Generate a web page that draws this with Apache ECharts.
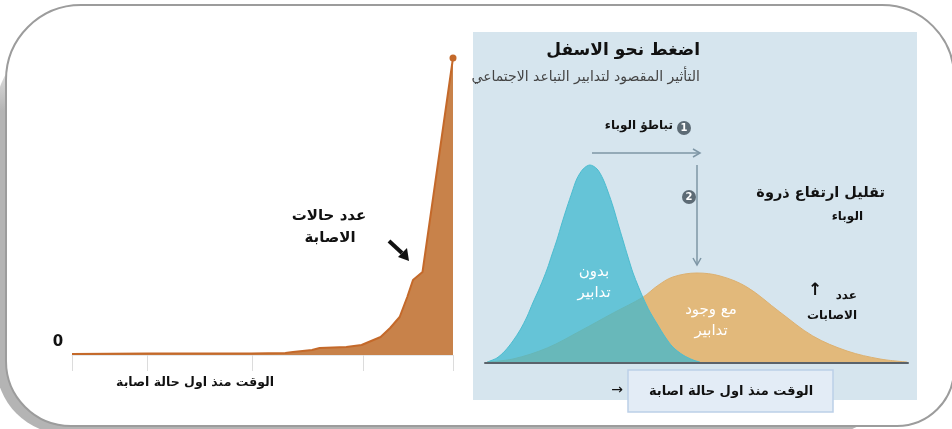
<!DOCTYPE html>
<html>
<head>
<meta charset="utf-8">
<script src="https://cdn.jsdelivr.net/npm/echarts@6/dist/echarts.min.js"></script>
<style>html,body{margin:0;padding:0;background:#fff}#c{width:952px;height:429px}</style>
</head>
<body>
<div id="c"></div>
<script>
// ---- Left chart data (days since first case, number of cases) ----
const leftDays  = [0, 20, 47, 56, 58, 63, 65, 72, 76, 81, 83.5, 86, 88, 89.5, 92, 100];
const leftCases = [1, 1.5, 1.5, 2, 3, 5, 7, 8, 10, 18, 27, 38, 58, 75, 83, 297];
const leftTickDays = [0, 19.7, 47.2, 76.4, 100];
const leftYLabels = ['0'];
const leftXTitle = 'الوقت منذ اول حالة اصابة';
const leftNote = ['عدد حالات', 'الاصابة'];

// ---- Right chart data (flatten the curve) ----
const tealX = [0.5, 2.8, 4.7, 6.6, 8.3, 9.9, 11.3, 13.0, 14.7, 15.8, 17.0, 18.2, 19.4, 20.6, 21.7, 23.2, 24.8, 26.5, 27.9, 29.1, 30.3, 31.4, 32.6, 33.8, 35.0, 36.2, 37.4, 39.0, 40.7, 42.6, 44.4, 46.8, 49.2, 50.8];
const tealY = [1, 5, 12, 22, 33, 46, 60, 76, 94, 108, 123, 140, 156, 171, 184, 194, 198, 194, 184, 171, 156, 140, 123, 106, 90, 77, 65, 51, 39, 26, 16, 8, 3, 1];
const tanX  = [0.5, 6.6, 14.7, 22.5, 30.3, 37.4, 40.7, 44.4, 50.1, 55.6, 61.9, 69.7, 77.5, 85.6, 93.4, 99.8];
const tanY  = [1, 4, 15, 32, 50, 66, 77, 86, 90, 87, 76, 51, 27, 12, 4, 1];
const rightTitle = 'اضغط نحو الاسفل';
const rightSubtitle = 'التأثير المقصود لتدابير التباعد الاجتماعي';
const step1 = 'تباطؤ الوباء';
const step2 = ['تقليل ارتفاع ذروة', 'الوباء'];
const tealLabel = ['بدون', 'تدابير'];
const tanLabel = ['مع وجود', 'تدابير'];
const yNote = ['عدد', 'الاصابات'];
const rightXTitle = 'الوقت منذ اول حالة اصابة';

const AR = '"DejaVu Sans", Arial, sans-serif';
const chart = echarts.init(document.getElementById('c'));

function txt(x, y, s, size, opts) {
  opts = opts || {};
  return {
    type: 'text', x: x, y: y, z: 50,
    style: Object.assign({
      text: s, fontSize: size, fontFamily: AR,
      fontWeight: opts.bold ? 'bold' : 'normal',
      fill: opts.color || '#111', align: opts.align || 'center', verticalAlign: 'middle'
    }, opts.style || {})
  };
}

const graphics = [
  // shadow
  { type: 'rect', z: -20, shape: { x: -4, y: 40, width: 900, height: 394, r: 70 },
    style: { fill: new echarts.graphic.LinearGradient(0, 0, 0, 1, [
      { offset: 0, color: '#ffffff' }, { offset: 0.18, color: '#b4b4b4' }, { offset: 1, color: '#b4b4b4' }]) } },
  // white frame
  { type: 'rect', z: -10, shape: { x: 6, y: 5, width: 948, height: 421, r: [75, 72, 57, 65] },
    style: { fill: '#ffffff', stroke: '#9c9c9c', lineWidth: 2 } },
  // right panel background
  { type: 'rect', z: -5, shape: { x: 473, y: 32, width: 444, height: 368 },
    style: { fill: '#d6e5ee' } },
  // left annotations
  txt(329, 216, leftNote[0], 15, { bold: true }),
  txt(330, 238, leftNote[1], 15, { bold: true }),
  { type: 'line', z: 50, shape: { x1: 389, y1: 241, x2: 402, y2: 253 }, style: { stroke: '#111', lineWidth: 4 } },
  { type: 'polygon', z: 50, shape: { points: [[398, 257], [407, 248], [409, 261]] }, style: { fill: '#111' } },
  txt(58, 342, leftYLabels[0], 15, { bold: true }),
  txt(195, 383, leftXTitle, 12.5, { bold: true }),
  // right titles
  txt(700, 51, rightTitle, 17, { bold: true, align: 'right' }),
  txt(700, 77, rightSubtitle, 14, { align: 'right', color: '#444' }),
  txt(673, 126, step1, 12, { bold: true, align: 'right' }),
  { type: 'circle', z: 50, shape: { cx: 684, cy: 128, r: 7 }, style: { fill: '#5d6b75' } },
  txt(684, 128, '1', 10, { bold: true, color: '#fff' }),
  txt(885, 193, step2[0], 14.5, { bold: true, align: 'right' }),
  txt(863, 217, step2[1], 12, { bold: true, align: 'right' }),
  { type: 'circle', z: 50, shape: { cx: 689, cy: 197, r: 7 }, style: { fill: '#5d6b75' } },
  txt(689, 197, '2', 10, { bold: true, color: '#fff' }),
  // arrows
  { type: 'line', z: 50, shape: { x1: 592, y1: 153, x2: 700, y2: 153 }, style: { stroke: '#7e96a5', lineWidth: 1.5 } },
  { type: 'polyline', z: 50, shape: { points: [[693, 149], [700, 153], [693, 157]] }, style: { stroke: '#7e96a5', lineWidth: 1.5, fill: null } },
  { type: 'line', z: 50, shape: { x1: 697, y1: 165, x2: 697, y2: 265 }, style: { stroke: '#7e96a5', lineWidth: 1.5 } },
  { type: 'polyline', z: 50, shape: { points: [[693, 258], [697, 265], [701, 258]] }, style: { stroke: '#7e96a5', lineWidth: 1.5, fill: null } },
  // curve labels
  txt(594, 272, tealLabel[0], 15, { color: '#fff' }),
  txt(594, 293, tealLabel[1], 15, { color: '#fff' }),
  txt(711, 310, tanLabel[0], 15, { color: '#fff' }),
  txt(711, 331, tanLabel[1], 15, { color: '#fff' }),
  txt(857, 296, yNote[0], 12, { bold: true, align: 'right' }),
  txt(815, 291, '↑', 17, { bold: true }),
  txt(832, 316, yNote[1], 12, { bold: true }),
  // x-axis title box
  { type: 'rect', z: 40, shape: { x: 628, y: 370, width: 205, height: 42 }, style: { fill: '#e3ecf6', stroke: '#bcd0e8', lineWidth: 1.5 } },
  txt(731, 392, rightXTitle, 13, { bold: true }),
  txt(617, 390, '→', 14, {})
];

const option = {
  backgroundColor: '#ffffff',
  animation: false,
  grid: [
    { left: 72, right: 952 - 453, top: 55, height: 300 },
    { left: 485, right: 952 - 908, top: 163, height: 200 }
  ],
  xAxis: [
    { gridIndex: 0, type: 'value', min: 0, max: 100,
      splitLine: { show: false },
      axisLine: { show: true, lineStyle: { color: '#e6e9ec', width: 1 } },
      axisTick: { show: true, customValues: leftTickDays, length: 16, lineStyle: { color: '#dcdcdc' } },
      axisLabel: { show: false } },
    { gridIndex: 1, type: 'value', min: 0, max: 100,
      splitLine: { show: false },
      axisLine: { show: true, lineStyle: { color: '#5a636b', width: 2 } },
      axisTick: { show: false }, axisLabel: { show: false }, z: 10 }
  ],
  yAxis: [
    { gridIndex: 0, type: 'value', min: 0, max: 300, show: false },
    { gridIndex: 1, type: 'value', min: 0, max: 200, show: false }
  ],
  series: [
    { type: 'line', xAxisIndex: 0, yAxisIndex: 0,
      data: leftDays.map((d, i) => [d, leftCases[i]]),
      showSymbol: false,
      lineStyle: { color: '#c4692a', width: 2 },
      areaStyle: { color: '#c8824a', opacity: 1 },
      markPoint: { symbol: 'circle', symbolSize: 7, itemStyle: { color: '#c4692a' }, label: { show: false },
        data: [{ coord: [leftDays[leftDays.length - 1], leftCases[leftCases.length - 1]] }] } },
    { type: 'line', xAxisIndex: 1, yAxisIndex: 1, smooth: 0.35,
      data: tanX.map((d, i) => [d, tanY[i]]),
      showSymbol: false, lineStyle: { color: '#dcb070', width: 1 },
      areaStyle: { color: '#e2b97b', opacity: 1 }, z: 3 },
    { type: 'line', xAxisIndex: 1, yAxisIndex: 1, smooth: 0.3,
      data: tealX.map((d, i) => [d, tealY[i]]),
      showSymbol: false, lineStyle: { color: '#4cbccf', width: 1 },
      areaStyle: { color: '#3fb8cf', opacity: 0.75 }, z: 4 }
  ],
  graphic: graphics
};
chart.setOption(option);
</script>
</body>
</html>
